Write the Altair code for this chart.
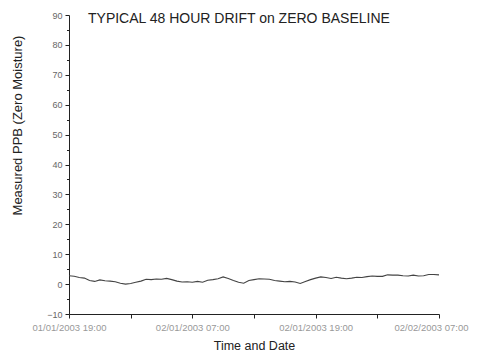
import altair as alt
import pandas as pd

hours = [i * 0.5 for i in range(73)]
ppb = [2.8, 2.6, 2.2, 2.0, 1.2, 0.9, 1.4, 1.1, 1.0, 0.8, 0.3, 0.0, 0.2, 0.6, 1.0, 1.6,
       1.5, 1.7, 1.6, 1.9, 1.5, 1.0, 0.7, 0.8, 0.6, 0.9, 0.6, 1.3, 1.5, 1.8, 2.4, 1.9,
       1.2, 0.6, 0.3, 1.2, 1.5, 1.8, 1.7, 1.6, 1.2, 1.0, 0.8, 0.9, 0.7, 0.2, 0.9, 1.5,
       2.0, 2.4, 2.2, 1.9, 2.3, 2.0, 1.8, 2.0, 2.3, 2.2, 2.5, 2.7, 2.6, 2.6, 3.1, 3.0,
       3.0, 2.8, 2.7, 3.0, 2.7, 2.8, 3.2, 3.2, 3.1]

tick_hours = [0, 12, 24, 36]
tick_labels = ["01/01/2003 19:00", "02/01/2003 07:00", "02/01/2003 19:00", "02/02/2003 07:00"]
title_text = "TYPICAL 48 HOUR DRIFT on ZERO BASELINE"

df = pd.DataFrame({"h": hours, "v": ppb})

label_expr = " : ".join(
    [f"datum.value == {h} ? '{l}'" for h, l in zip(tick_hours, tick_labels)]
) + " : ''"

x = alt.X(
    "h:Q",
    scale=alt.Scale(domain=[0, 36], nice=False, zero=False),
    axis=alt.Axis(
        title="Time and Date",
        values=[0, 6, 12, 18, 24, 30, 36],
        labelExpr=label_expr,
        grid=False,
        domainColor="#222",
        tickColor="#222",
        tickSize=4,
        labelFont="Liberation Sans",
        labelFontSize=9.5,
        labelColor="#999",
        labelPadding=4,
        labelFlush=False,
        labelOverlap=False,
        labelAlign=alt.condition("datum.value == 36", alt.value("right"), alt.value("center")),
        labelOffset=alt.condition("datum.value == 36", alt.value(29), alt.value(0)),
        titleFont="Liberation Sans",
        titleFontSize=12.5,
        titleFontWeight="normal",
        titleColor="#222",
        titlePadding=8,
    ),
)

y = alt.Y(
    "v:Q",
    scale=alt.Scale(domain=[-10, 90], nice=False),
    axis=alt.Axis(
        title="Measured PPB (Zero Moisture)",
        values=list(range(-10, 91, 5)),
        labelExpr="datum.value % 10 === 0 ? datum.label : ''",
        tickSize=alt.condition("datum.value % 10 === 0", alt.value(4), alt.value(2.5)),
        grid=False,
        domainColor="#222",
        tickColor="#222",
        labelFont="Liberation Sans",
        labelFontSize=9,
        labelColor="#666",
        labelPadding=3,
        titleFont="Liberation Sans",
        titleFontSize=13,
        titleFontWeight="normal",
        titleColor="#222",
        titleX=-45,
        titleY=110,
        titleAngle=270,
    ),
)

line = alt.Chart(df).mark_line(color="#444", strokeWidth=1.1).encode(x=x, y=y)

title_df = pd.DataFrame({"t": [title_text]})
title = alt.Chart(title_df).mark_text(
    align="left", baseline="middle", font="Liberation Sans", fontSize=14, color="#222"
).encode(text="t:N", x=alt.value(19), y=alt.value(4))

chart = (
    alt.layer(line, title)
    .properties(
        width=370,
        height=299,
        autosize=alt.AutoSizeParams(type="none"),
        padding={"left": 61, "top": 7, "right": 31, "bottom": 40},
        background="white",
    )
    .configure_view(stroke=None)
)

chart.save("out.html", embed_options={"renderer": "svg", "actions": False})
